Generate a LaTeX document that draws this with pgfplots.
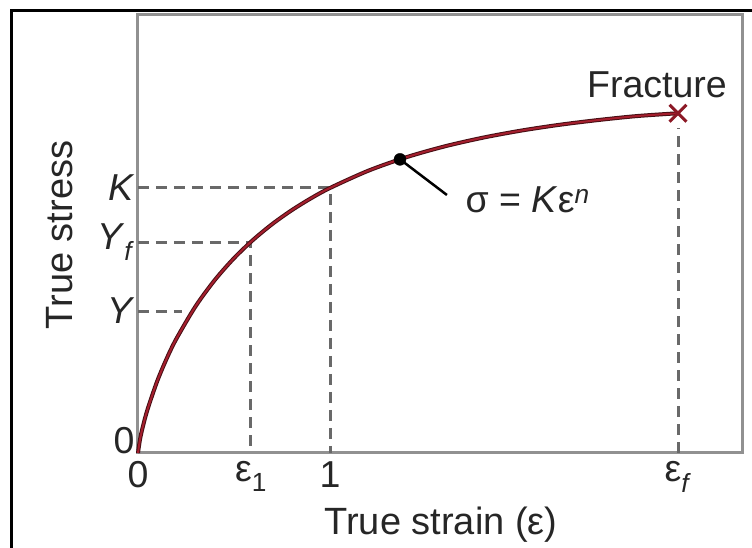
\documentclass[border=0pt]{standalone}
\usepackage{pgfplots}
\pgfplotsset{compat=1.18}
\usepackage{fontspec}
\setmainfont{Liberation Sans}
\definecolor{curvered}{RGB}{165,30,45}
\definecolor{curvedark}{RGB}{70,15,20}
\definecolor{axgray}{RGB}{145,145,145}
\definecolor{dashgray}{RGB}{105,105,105}
\pgfplotstableread{
x y
0 0
0.01 0.0493
0.025 0.0988
0.05 0.1651
0.1 0.2709
0.15 0.3572
0.2 0.4312
0.3 0.5537
0.4 0.6527
0.5 0.7350
0.6 0.8046
0.7 0.8643
0.8 0.9158
0.9 0.9607
1.0 1.0
1.2 1.0653
1.4 1.1166
1.6 1.1575
1.8 1.1904
2.0 1.2171
2.2 1.2389
2.4 1.2567
2.6 1.2715
2.8125 1.2820
}\curvetable
\begin{document}
\begin{tikzpicture}
\begin{axis}[
  at={(0,0)}, anchor=south west,
  scale only axis, width=604pt, height=438pt,
  xmin=0, xmax=3.1458, ymin=0, ymax=1.6528,
  axis line style={axgray, line width=3pt},
  xtick={0,0.5885,1,2.8125},
  xticklabels={0,ε\textsubscript{1},1,ε\textsubscript{\textit{f}}},
  ytick={0,0.5358,0.7960,1},
  yticklabels={\raisebox{26pt}{0},\textit{Y},\textit{Y}\textsubscript{\textit{f}},\textit{K}},
  major tick length=0pt,
  tick label style={font=\fontsize{37.5}{44}\selectfont, text=black!85},
  xticklabel style={yshift=-5pt},
  xlabel={True strain (ε)}, ylabel={True stress},
  label style={font=\fontsize{38}{44}\selectfont, text=black!85},
  xlabel style={at={(axis description cs:0.5017,-0.1644)}, anchor=center},
  ylabel style={at={(axis description cs:-0.1291,0.4977)}, anchor=center},
  clip=false,
]
\addplot[dashgray, line width=3pt, dash pattern=on 11pt off 7pt] coordinates {(0,1) (1,1) (1,0)};
\addplot[dashgray, line width=3pt, dash pattern=on 11pt off 7pt] coordinates {(0,0.7960) (0.5885,0.7960) (0.5885,0)};
\addplot[dashgray, line width=3pt, dash pattern=on 11pt off 7pt] coordinates {(0,0.5358) (0.229,0.5358)};
\addplot[dashgray, line width=3pt, dash pattern=on 11pt off 7pt] coordinates {(2.8125,0) (2.8125,1.226)};
\addplot[curvedark, line width=4pt, smooth] table[x=x,y=y] {\curvetable};
\addplot[curvered, line width=2pt, smooth] table[x=x,y=y] {\curvetable};
\addplot[curvered!85!black, only marks, mark=x, mark size=12pt, mark options={line width=3pt}] coordinates {(2.8125,1.2820)};
\addplot[black, line width=2.5pt] coordinates {(1.3646,1.108) (1.609,0.9736)};
\addplot[black, only marks, mark=*, mark size=6pt] coordinates {(1.3646,1.108)};
\node[anchor=west, font=\fontsize{37.5}{44}\selectfont, text=black!85] at (axis cs:1.6875,0.955) {σ = \textit{K}ε\textsuperscript{\textit{n}}};
\node[font=\fontsize{37.5}{44}\selectfont, text=black!85] at (axis cs:2.703,1.389) {Fracture};
\end{axis}
\draw[black, line width=2.5pt] (-126.5pt,-95pt) -- (-126.5pt,442.5pt) -- (614pt,442.5pt);
\pgfresetboundingbox
\useasboundingbox (-138pt,-95pt) rectangle (614pt,453pt);
\end{tikzpicture}
\end{document}
